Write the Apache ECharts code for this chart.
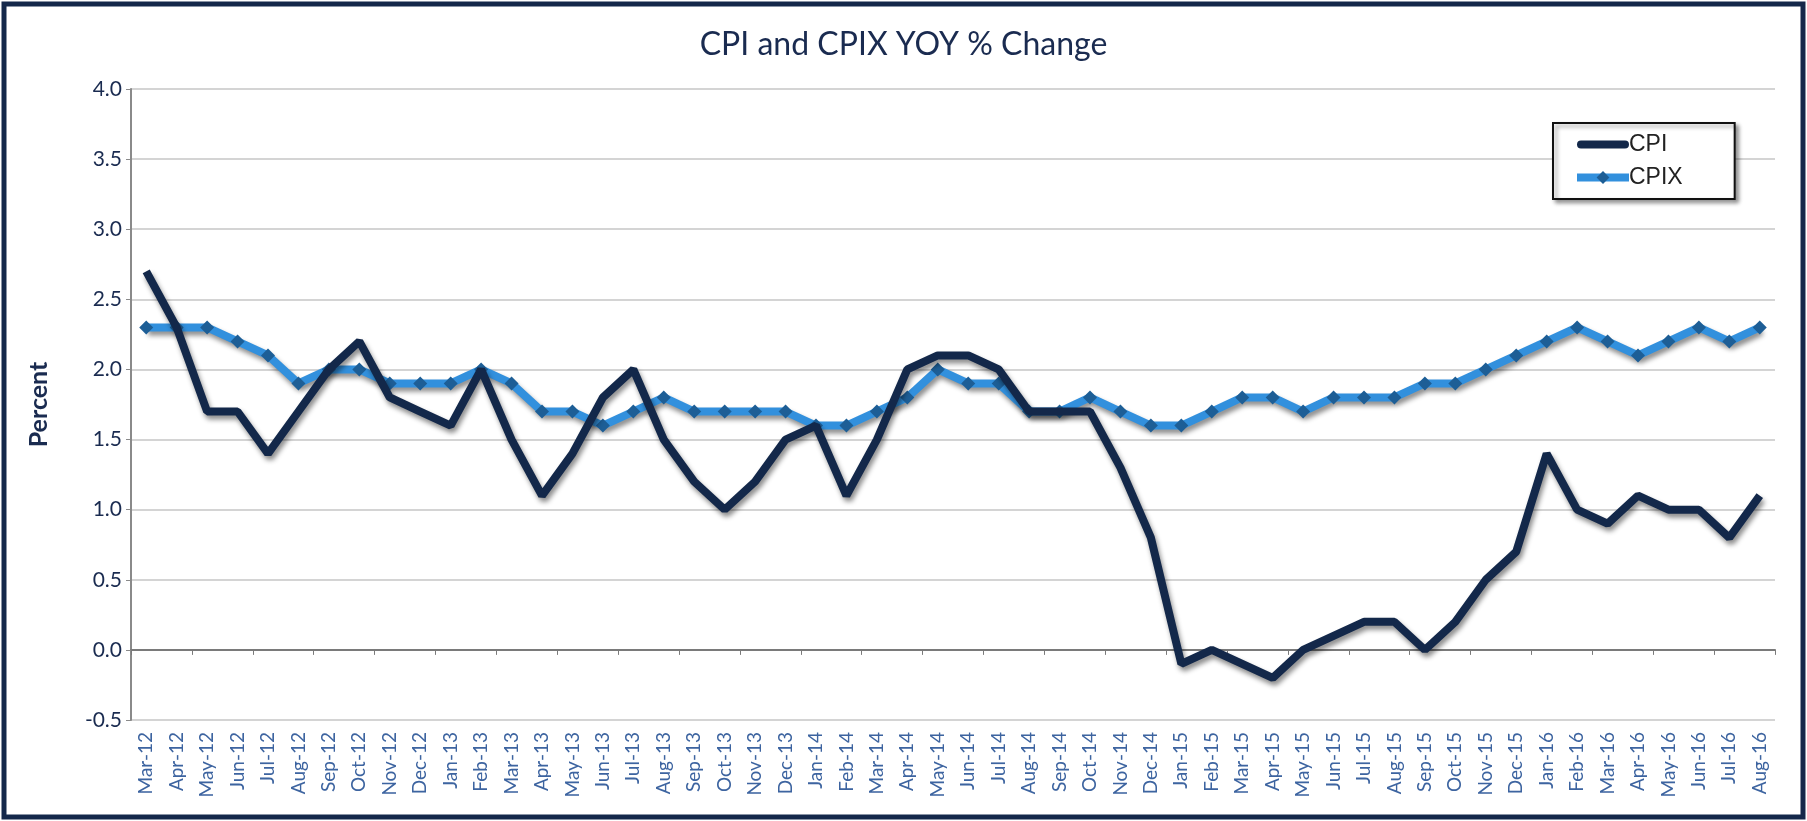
<!DOCTYPE html>
<html>
<head>
<meta charset="utf-8">
<script src="https://cdn.jsdelivr.net/npm/echarts@6/dist/echarts.min.js"></script>
<style>
  html, body { margin: 0; padding: 0; background: #fff; }
  #chart { width: 1807px; height: 821px; }
</style>
</head>
<body>
<div id="chart"></div>
<script>
const months = [
  "Mar-12", "Apr-12", "May-12", "Jun-12", "Jul-12", "Aug-12", "Sep-12", "Oct-12", "Nov-12", "Dec-12",
  "Jan-13", "Feb-13", "Mar-13", "Apr-13", "May-13", "Jun-13", "Jul-13", "Aug-13", "Sep-13", "Oct-13", "Nov-13", "Dec-13",
  "Jan-14", "Feb-14", "Mar-14", "Apr-14", "May-14", "Jun-14", "Jul-14", "Aug-14", "Sep-14", "Oct-14", "Nov-14", "Dec-14",
  "Jan-15", "Feb-15", "Mar-15", "Apr-15", "May-15", "Jun-15", "Jul-15", "Aug-15", "Sep-15", "Oct-15", "Nov-15", "Dec-15",
  "Jan-16", "Feb-16", "Mar-16", "Apr-16", "May-16", "Jun-16", "Jul-16", "Aug-16"
];

const cpi = [
  2.7, 2.3, 1.7, 1.7, 1.4, 1.7, 2.0, 2.2, 1.8, 1.7,
  1.6, 2.0, 1.5, 1.1, 1.4, 1.8, 2.0, 1.5, 1.2, 1.0, 1.2, 1.5,
  1.6, 1.1, 1.5, 2.0, 2.1, 2.1, 2.0, 1.7, 1.7, 1.7, 1.3, 0.8,
  -0.1, 0.0, -0.1, -0.2, 0.0, 0.1, 0.2, 0.2, 0.0, 0.2, 0.5, 0.7,
  1.4, 1.0, 0.9, 1.1, 1.0, 1.0, 0.8, 1.1
];

const cpix = [
  2.3, 2.3, 2.3, 2.2, 2.1, 1.9, 2.0, 2.0, 1.9, 1.9,
  1.9, 2.0, 1.9, 1.7, 1.7, 1.6, 1.7, 1.8, 1.7, 1.7, 1.7, 1.7,
  1.6, 1.6, 1.7, 1.8, 2.0, 1.9, 1.9, 1.7, 1.7, 1.8, 1.7, 1.6,
  1.6, 1.7, 1.8, 1.8, 1.7, 1.8, 1.8, 1.8, 1.9, 1.9, 2.0, 2.1,
  2.2, 2.3, 2.2, 2.1, 2.2, 2.3, 2.2, 2.3
];

const yMin = -0.5;
const yMax = 4.0;
const yStep = 0.5;

const chart = echarts.init(document.getElementById("chart"));

const lineShadow = {
  shadowColor: "rgba(0, 0, 0, 0.45)",
  shadowBlur: 5,
  shadowOffsetX: 2,
  shadowOffsetY: 4,
};

// thick bar in a 52x16 box for the CPI legend icon
const barIcon = "path://M0,0L0,16M4,4H48A4,4,0,0,1,48,12H4A4,4,0,0,1,4,4Z";

const option = {
  backgroundColor: "#fff",
  animation: false,
  textStyle: { fontFamily: "Lato" },
  graphic: [
    {
      type: "rect",
      shape: { x: 4, y: 4, width: 1799, height: 813 },
      style: { fill: "none", stroke: "#14284a", lineWidth: 5 },
      silent: true,
    },
  ],
  title: {
    text: "CPI and CPIX YOY % Change",
    left: "center",
    top: 24,
    textStyle: {
      color: "#1a2b50",
      fontSize: 32,
      fontWeight: "normal",
      fontFamily: "Lato",
    },
  },
  legend: {
    orient: "vertical",
    left: 1553,
    top: 123,
    padding: [10, 52, 10, 20],
    itemGap: 10,
    itemWidth: 52,
    itemHeight: 16,
    borderColor: "#111",
    borderWidth: 2,
    backgroundColor: "#fff",
    shadowColor: "rgba(0,0,0,0.4)",
    shadowBlur: 4,
    shadowOffsetX: 3,
    shadowOffsetY: 3,
    lineStyle: { width: 8 },
    textStyle: {
      color: "#222",
      fontSize: 23,
      fontFamily: "Liberation Sans",
      padding: [0, 0, 0, -5],
    },
    data: [
      { name: "CPI", icon: barIcon, itemStyle: { color: "#13284a", borderWidth: 0 } },
      { name: "CPIX" },
    ],
  },
  grid: {
    left: 131,
    right: 32,
    top: 89,
    bottom: 101,
  },
  xAxis: [
    {
      type: "category",
      data: months,
      position: "bottom",
      axisLine: { show: false, onZero: false },
      axisTick: { show: false },
      axisLabel: {
        rotate: 90,
        interval: 0,
        margin: 12,
        color: "#3d64a0",
        fontSize: 19,
        fontFamily: "Lato",
      },
    },
    {
      type: "category",
      data: months,
      position: "bottom",
      axisLine: {
        show: true,
        onZero: true,
        lineStyle: { color: "#7a7a7a", width: 2 },
      },
      axisTick: {
        show: true,
        length: 5,
        lineStyle: { color: "#7a7a7a" },
      },
      axisLabel: { show: false },
    },
  ],
  yAxis: {
    type: "value",
    min: yMin,
    max: yMax,
    interval: yStep,
    name: "Percent",
    nameLocation: "middle",
    nameGap: 80,
    nameTextStyle: {
      color: "#1a2b50",
      fontSize: 25,
      fontWeight: "bold",
      fontFamily: "Lato",
    },
    axisLine: {
      show: true,
      lineStyle: { color: "#8a8a8a", width: 2 },
    },
    axisTick: {
      show: true,
      length: 5,
      lineStyle: { color: "#8a8a8a" },
    },
    axisLabel: {
      margin: 9,
      color: "#1a2b50",
      fontSize: 21,
      fontFamily: "Lato",
      formatter: (v) => v.toFixed(1),
    },
    splitLine: {
      show: true,
      lineStyle: { color: "#d4d4d4", width: 2 },
    },
  },
  series: [
    {
      name: "CPI",
      type: "line",
      data: cpi,
      xAxisIndex: 0,
      symbol: "none",
      z: 3,
      lineStyle: Object.assign({ color: "#13284a", width: 8 }, lineShadow),
      itemStyle: { color: "#13284a" },
    },
    {
      name: "CPIX",
      type: "line",
      data: cpix,
      xAxisIndex: 0,
      symbol: "diamond",
      symbolSize: 14,
      z: 2,
      lineStyle: Object.assign({ color: "#3290dd", width: 8 }, lineShadow),
      itemStyle: { color: "#1d5e96", borderWidth: 0 },
    },
  ],
};

chart.setOption(option);
</script>
</body>
</html>
